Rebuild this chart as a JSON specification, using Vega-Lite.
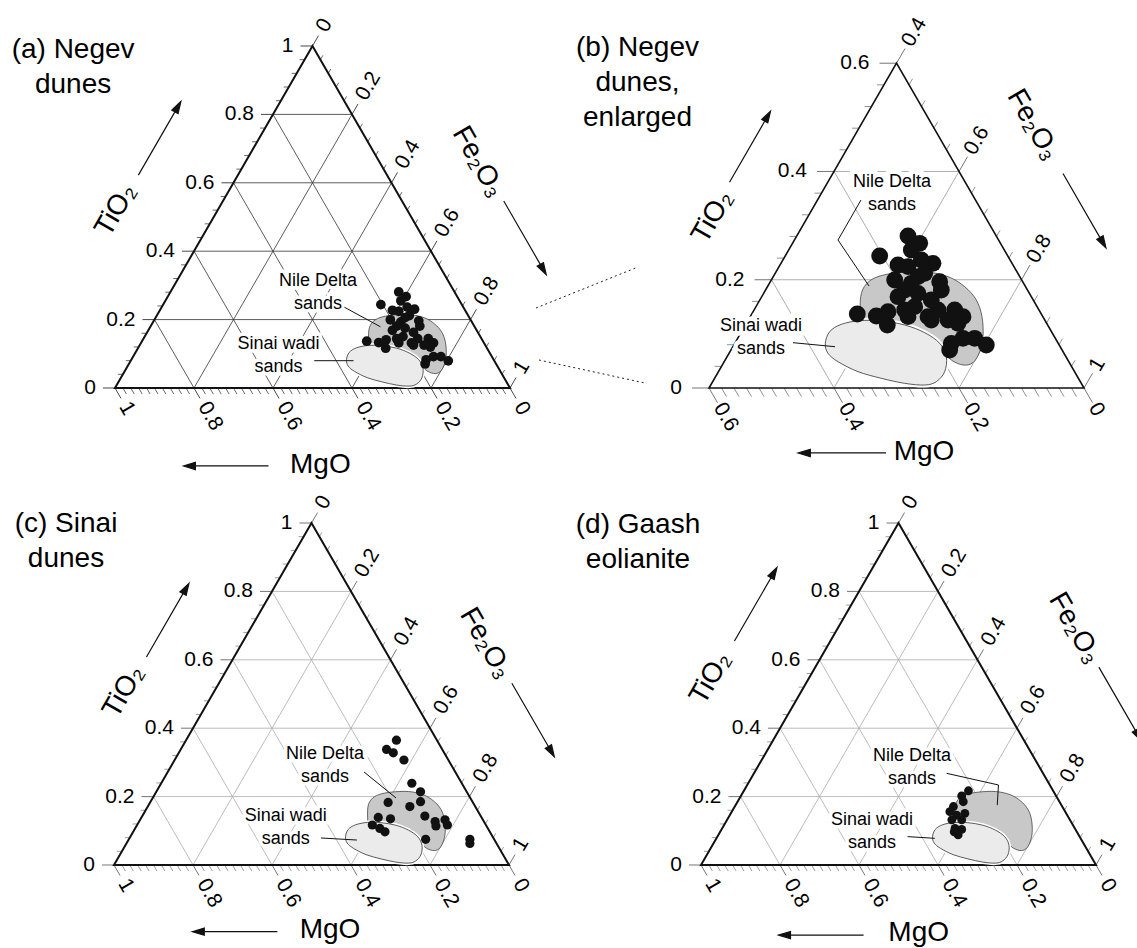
{
"$schema": "https://vega.github.io/schema/vega-lite/v6.json",
"padding": 0,
"background": "white",
"spacing": 0,
"bounds": "flush",
"columns": 2,
"config": {"view": {"stroke": null}, "font": "Liberation Sans"},
"datasets": {
"tri_full": [{"i":0,"x":0,"y":0},{"i":1,"x":1,"y":0},{"i":2,"x":0.5,"y":1}],
"tri_b": [{"i":0,"x":0.4,"y":0},{"i":1,"x":1,"y":0},{"i":2,"x":0.7,"y":0.6}],
"grid_full": [
{"x":0.1,"y":0.2,"x2":0.9,"y2":0.2},{"x":0.2,"y":0.4,"x2":0.8,"y2":0.4},{"x":0.3,"y":0.6,"x2":0.7,"y2":0.6},{"x":0.4,"y":0.8,"x2":0.6,"y2":0.8},
{"x":0.2,"y":0,"x2":0.6,"y2":0.8},{"x":0.4,"y":0,"x2":0.7,"y2":0.6},{"x":0.6,"y":0,"x2":0.8,"y2":0.4},{"x":0.8,"y":0,"x2":0.9,"y2":0.2},
{"x":0.8,"y":0,"x2":0.4,"y2":0.8},{"x":0.6,"y":0,"x2":0.3,"y2":0.6},{"x":0.4,"y":0,"x2":0.2,"y2":0.4},{"x":0.2,"y":0,"x2":0.1,"y2":0.2}],
"grid_b": [
{"x":0.5,"y":0.2,"x2":0.9,"y2":0.2},{"x":0.6,"y":0.4,"x2":0.8,"y2":0.4},
{"x":0.6,"y":0,"x2":0.8,"y2":0.4},{"x":0.8,"y":0,"x2":0.9,"y2":0.2},
{"x":0.8,"y":0,"x2":0.6,"y2":0.4},{"x":0.6,"y":0,"x2":0.5,"y2":0.2}],
"bt_full": [{"x":0.02,"y":0},{"x":0.04,"y":0},{"x":0.06,"y":0},{"x":0.08,"y":0},{"x":0.1,"y":0},{"x":0.12,"y":0},{"x":0.14,"y":0},{"x":0.16,"y":0},{"x":0.18,"y":0},
{"x":0.22,"y":0},{"x":0.24,"y":0},{"x":0.26,"y":0},{"x":0.28,"y":0},{"x":0.3,"y":0},{"x":0.32,"y":0},{"x":0.34,"y":0},{"x":0.36,"y":0},{"x":0.38,"y":0},
{"x":0.42,"y":0},{"x":0.44,"y":0},{"x":0.46,"y":0},{"x":0.48,"y":0},{"x":0.5,"y":0},{"x":0.52,"y":0},{"x":0.54,"y":0},{"x":0.56,"y":0},{"x":0.58,"y":0},
{"x":0.62,"y":0},{"x":0.64,"y":0},{"x":0.66,"y":0},{"x":0.68,"y":0},{"x":0.7,"y":0},{"x":0.72,"y":0},{"x":0.74,"y":0},{"x":0.76,"y":0},{"x":0.78,"y":0},
{"x":0.82,"y":0},{"x":0.84,"y":0},{"x":0.86,"y":0},{"x":0.88,"y":0},{"x":0.9,"y":0},{"x":0.92,"y":0},{"x":0.94,"y":0},{"x":0.96,"y":0},{"x":0.98,"y":0}],
"lt_full": [{"x":0.02,"y":0.04},{"x":0.04,"y":0.08},{"x":0.06,"y":0.12},{"x":0.08,"y":0.16},{"x":0.12,"y":0.24},{"x":0.14,"y":0.28},{"x":0.16,"y":0.32},{"x":0.18,"y":0.36},
{"x":0.22,"y":0.44},{"x":0.24,"y":0.48},{"x":0.26,"y":0.52},{"x":0.28,"y":0.56},{"x":0.32,"y":0.64},{"x":0.34,"y":0.68},{"x":0.36,"y":0.72},{"x":0.38,"y":0.76},
{"x":0.42,"y":0.84},{"x":0.44,"y":0.88},{"x":0.46,"y":0.92},{"x":0.48,"y":0.96}],
"rt_full": [{"x":0.98,"y":0.04},{"x":0.96,"y":0.08},{"x":0.94,"y":0.12},{"x":0.92,"y":0.16},{"x":0.88,"y":0.24},{"x":0.86,"y":0.28},{"x":0.84,"y":0.32},{"x":0.82,"y":0.36},
{"x":0.78,"y":0.44},{"x":0.76,"y":0.48},{"x":0.74,"y":0.52},{"x":0.72,"y":0.56},{"x":0.68,"y":0.64},{"x":0.66,"y":0.68},{"x":0.64,"y":0.72},{"x":0.62,"y":0.76},
{"x":0.58,"y":0.84},{"x":0.56,"y":0.88},{"x":0.54,"y":0.92},{"x":0.52,"y":0.96}],
"bM_full": [{"x":0,"y":0,"lab":"1"},{"x":0.2,"y":0,"lab":"0.8"},{"x":0.4,"y":0,"lab":"0.6"},{"x":0.6,"y":0,"lab":"0.4"},{"x":0.8,"y":0,"lab":"0.2"},{"x":1,"y":0,"lab":"0"}],
"lM_full": [{"x":0,"y":0,"lab":"0"},{"x":0.1,"y":0.2,"lab":"0.2"},{"x":0.2,"y":0.4,"lab":"0.4"},{"x":0.3,"y":0.6,"lab":"0.6"},{"x":0.4,"y":0.8,"lab":"0.8"},{"x":0.5,"y":1,"lab":"1"}],
"rM_full": [{"x":0.5,"y":1,"lab":"0"},{"x":0.6,"y":0.8,"lab":"0.2"},{"x":0.7,"y":0.6,"lab":"0.4"},{"x":0.8,"y":0.4,"lab":"0.6"},{"x":0.9,"y":0.2,"lab":"0.8"},{"x":1,"y":0,"lab":"1"}],
"bt_b": [{"x":0.42,"y":0},{"x":0.44,"y":0},{"x":0.46,"y":0},{"x":0.48,"y":0},{"x":0.5,"y":0},{"x":0.52,"y":0},{"x":0.54,"y":0},{"x":0.56,"y":0},{"x":0.58,"y":0},
{"x":0.62,"y":0},{"x":0.64,"y":0},{"x":0.66,"y":0},{"x":0.68,"y":0},{"x":0.7,"y":0},{"x":0.72,"y":0},{"x":0.74,"y":0},{"x":0.76,"y":0},{"x":0.78,"y":0},
{"x":0.82,"y":0},{"x":0.84,"y":0},{"x":0.86,"y":0},{"x":0.88,"y":0},{"x":0.9,"y":0},{"x":0.92,"y":0},{"x":0.94,"y":0},{"x":0.96,"y":0},{"x":0.98,"y":0}],
"lt_b": [{"x":0.42,"y":0.04},{"x":0.44,"y":0.08},{"x":0.46,"y":0.12},{"x":0.48,"y":0.16},{"x":0.52,"y":0.24},{"x":0.54,"y":0.28},{"x":0.56,"y":0.32},{"x":0.58,"y":0.36},
{"x":0.62,"y":0.44},{"x":0.64,"y":0.48},{"x":0.66,"y":0.52},{"x":0.68,"y":0.56}],
"rt_b": [{"x":0.98,"y":0.04},{"x":0.96,"y":0.08},{"x":0.94,"y":0.12},{"x":0.92,"y":0.16},{"x":0.88,"y":0.24},{"x":0.86,"y":0.28},{"x":0.84,"y":0.32},{"x":0.82,"y":0.36},
{"x":0.78,"y":0.44},{"x":0.76,"y":0.48},{"x":0.74,"y":0.52},{"x":0.72,"y":0.56}],
"bM_b": [{"x":0.4,"y":0,"lab":"0.6"},{"x":0.6,"y":0,"lab":"0.4"},{"x":0.8,"y":0,"lab":"0.2"},{"x":1,"y":0,"lab":"0"}],
"lM_b": [{"x":0.4,"y":0,"lab":"0"},{"x":0.5,"y":0.2,"lab":"0.2"},{"x":0.6,"y":0.4,"lab":"0.4"},{"x":0.7,"y":0.6,"lab":"0.6"}],
"rM_b": [{"x":0.7,"y":0.6,"lab":"0.4"},{"x":0.8,"y":0.4,"lab":"0.6"},{"x":0.9,"y":0.2,"lab":"0.8"},{"x":1,"y":0,"lab":"1"}],
"conn": [{"x":0.1232,"y":0.1478,"x2":0.2864,"y2":0.2235},{"x":0.128,"y":0.0517,"x2":0.2976,"y2":0.0092}],
"nile": [{"i":0,"x":0.6427,"y":0.1256},{"i":1,"x":0.6427,"y":0.1687},{"i":2,"x":0.6517,"y":0.1921},{"i":3,"x":0.6704,"y":0.2057},{"i":4,"x":0.7024,"y":0.2131},{"i":5,"x":0.7451,"y":0.2149},{"i":6,"x":0.7824,"y":0.2057},{"i":7,"x":0.8091,"y":0.1872},{"i":8,"x":0.8277,"y":0.1626},{"i":9,"x":0.8368,"y":0.1318},{"i":10,"x":0.8384,"y":0.0948},{"i":11,"x":0.8331,"y":0.0671},{"i":12,"x":0.8224,"y":0.0468},{"i":13,"x":0.8064,"y":0.0425},{"i":14,"x":0.7877,"y":0.0517},{"i":15,"x":0.7717,"y":0.0702},{"i":16,"x":0.7237,"y":0.1072},{"i":17,"x":0.6704,"y":0.1133},{"i":18,"x":0.6464,"y":0.1133}],
"wadi": [{"i":0,"x":0.5861,"y":0.0825},{"i":1,"x":0.5931,"y":0.1041},{"i":2,"x":0.6117,"y":0.1176},{"i":3,"x":0.6411,"y":0.1244},{"i":4,"x":0.6757,"y":0.1238},{"i":5,"x":0.7131,"y":0.1164},{"i":6,"x":0.7451,"y":0.1022},{"i":7,"x":0.7691,"y":0.0825},{"i":8,"x":0.7797,"y":0.0579},{"i":9,"x":0.7771,"y":0.0302},{"i":10,"x":0.7637,"y":0.0117},{"i":11,"x":0.7451,"y":0.0055},{"i":12,"x":0.7131,"y":0.0086},{"i":13,"x":0.6757,"y":0.0179},{"i":14,"x":0.6384,"y":0.0302},{"i":15,"x":0.6064,"y":0.0486},{"i":16,"x":0.5904,"y":0.0641}],
"negev": [{"x":0.7184,"y":0.2808},{"x":0.7371,"y":0.2673},{"x":0.6731,"y":0.2439},{"x":0.7237,"y":0.2549},{"x":0.7584,"y":0.2303},{"x":0.7024,"y":0.2272},{"x":0.7184,"y":0.2242},{"x":0.7397,"y":0.2365},{"x":0.7451,"y":0.2118},{"x":0.7691,"y":0.1964},{"x":0.6971,"y":0.1995},{"x":0.7237,"y":0.1934},{"x":0.7131,"y":0.181},{"x":0.7717,"y":0.181},{"x":0.7344,"y":0.1749},{"x":0.6373,"y":0.1367},{"x":0.6677,"y":0.133},{"x":0.6864,"y":0.141},{"x":0.6853,"y":0.1164},{"x":0.7131,"y":0.1441},{"x":0.7291,"y":0.1503},{"x":0.7504,"y":0.1318},{"x":0.7664,"y":0.1441},{"x":0.7931,"y":0.1441},{"x":0.8064,"y":0.1318},{"x":0.7984,"y":0.1195},{"x":0.7557,"y":0.1256},{"x":0.7877,"y":0.0825},{"x":0.8064,"y":0.0918},{"x":0.8251,"y":0.0918},{"x":0.8437,"y":0.0794},{"x":0.7851,"y":0.0702},{"x":0.7024,"y":0.1687},{"x":0.7557,"y":0.1626},{"x":0.7344,"y":0.2057},{"x":0.7824,"y":0.1256},{"x":0.7184,"y":0.1318}],
"sinai": [{"x":0.69,"y":0.338},{"x":0.707,"y":0.328},{"x":0.715,"y":0.365},{"x":0.734,"y":0.307},{"x":0.754,"y":0.239},{"x":0.776,"y":0.214},{"x":0.776,"y":0.185},{"x":0.694,"y":0.183},{"x":0.749,"y":0.171},{"x":0.787,"y":0.143},{"x":0.669,"y":0.139},{"x":0.7,"y":0.135},{"x":0.654,"y":0.117},{"x":0.673,"y":0.107},{"x":0.686,"y":0.097},{"x":0.813,"y":0.127},{"x":0.838,"y":0.132},{"x":0.844,"y":0.117},{"x":0.815,"y":0.114},{"x":0.789,"y":0.075},{"x":0.901,"y":0.075},{"x":0.901,"y":0.063}],
"gaash": [{"x":0.677,"y":0.217},{"x":0.66,"y":0.202},{"x":0.664,"y":0.185},{"x":0.639,"y":0.171},{"x":0.63,"y":0.156},{"x":0.647,"y":0.146},{"x":0.668,"y":0.151},{"x":0.635,"y":0.132},{"x":0.66,"y":0.132},{"x":0.643,"y":0.107},{"x":0.66,"y":0.104},{"x":0.651,"y":0.088},{"x":0.641,"y":0.097}],
"ann_a": [{"x":0.514,"y":0.3116,"t":"Nile Delta\nsands"},{"x":0.414,"y":0.1296,"t":"Sinai wadi\nsands"}],
"ann_b": [{"x":0.6928,"y":0.3805,"t":"Nile Delta\nsands"},{"x":0.4832,"y":0.1154,"t":"Sinai wadi\nsands"}],
"ann_c": [{"x":0.534,"y":0.3256,"t":"Nile Delta\nsands"},{"x":0.435,"y":0.1446,"t":"Sinai wadi\nsands"}],
"ann_d": [{"x":0.534,"y":0.3176,"t":"Nile Delta\nsands"},{"x":0.433,"y":0.1326,"t":"Sinai wadi\nsands"}],
"lead_a": [{"g":1,"i":0,"x":0.581,"y":0.236},{"g":1,"i":1,"x":0.672,"y":0.179},{"g":2,"i":0,"x":0.5045,"y":0.0798},{"g":2,"i":1,"x":0.604,"y":0.0798}],
"lead_b": [{"g":1,"i":0,"x":0.6432,"y":0.3473},{"g":1,"i":1,"x":0.6064,"y":0.2734},{"g":1,"i":2,"x":0.656,"y":0.1884},{"g":2,"i":0,"x":0.5344,"y":0.0837},{"g":2,"i":1,"x":0.6016,"y":0.0763}],
"lead_c": [{"g":1,"i":0,"x":0.633,"y":0.272},{"g":1,"i":1,"x":0.714,"y":0.196},{"g":2,"i":0,"x":0.524,"y":0.079},{"g":2,"i":1,"x":0.615,"y":0.073}],
"lead_d": [{"g":1,"i":0,"x":0.622,"y":0.268},{"g":1,"i":1,"x":0.753,"y":0.234},{"g":1,"i":2,"x":0.75,"y":0.175},{"g":2,"i":0,"x":0.523,"y":0.083},{"g":2,"i":1,"x":0.592,"y":0.078}]
},
"concat": [
{
"width": 560, "height": 470,
"encoding": {
"x": {"field": "x", "type": "quantitative", "scale": {"domain": [-0.2911, 1.1266], "nice": false, "zero": false}, "axis": null},
"y": {"field": "y", "type": "quantitative", "scale": {"domain": [-0.2398, 1.1345], "nice": false, "zero": false}, "axis": null}
},
"layer": [
{"data": {"name": "grid_full"}, "mark": {"type": "rule", "stroke": "#333", "strokeWidth": 0.8}, "encoding": {"x2": {"field": "x2"}, "y2": {"field": "y2"}}},
{"data": {"name": "bt_full"}, "mark": {"type": "point", "shape": "M0,0L0.5,0.866", "size": 196, "filled": false, "stroke": "#444", "strokeWidth": 0.8, "opacity": 1}},
{"data": {"name": "lt_full"}, "mark": {"type": "point", "shape": "M0,0L-1,0", "size": 100, "filled": false, "stroke": "#444", "strokeWidth": 0.8, "opacity": 1}},
{"data": {"name": "rt_full"}, "mark": {"type": "point", "shape": "M0,0L0.5,-0.866", "size": 100, "filled": false, "stroke": "#444", "strokeWidth": 0.8, "opacity": 1}},
{"data": {"name": "bM_full"}, "mark": {"type": "point", "shape": "M0,0L0.5,0.866", "size": 576, "filled": false, "stroke": "#333", "strokeWidth": 0.9, "opacity": 1}},
{"data": {"name": "lM_full"}, "mark": {"type": "point", "shape": "M0,0L-1,0", "size": 576, "filled": false, "stroke": "#333", "strokeWidth": 0.9, "opacity": 1}},
{"data": {"name": "rM_full"}, "mark": {"type": "point", "shape": "M0,0L0.5,-0.866", "size": 576, "filled": false, "stroke": "#333", "strokeWidth": 0.9, "opacity": 1}},
{"data": {"name": "bM_full"}, "mark": {"type": "text", "angle": 60, "align": "left", "baseline": "middle", "dx": 18, "fontSize": 21}, "encoding": {"text": {"field": "lab"}}},
{"data": {"name": "lM_full"}, "mark": {"type": "text", "align": "right", "baseline": "middle", "dx": -19, "fontSize": 21}, "encoding": {"text": {"field": "lab"}}},
{"data": {"name": "rM_full"}, "mark": {"type": "text", "angle": 300, "align": "left", "baseline": "middle", "dx": 18, "fontSize": 21}, "encoding": {"text": {"field": "lab"}}},
{"data": {"name": "tri_full"}, "mark": {"type": "line", "interpolate": "linear-closed", "stroke": "#111", "strokeWidth": 2, "strokeJoin": "miter"}, "encoding": {"order": {"field": "i"}}},
{"data": {"name": "ann_a"}, "mark": {"type": "text", "lineBreak": "\n", "fontSize": 18, "lineHeight": 23, "align": "center", "baseline": "middle", "fill": "white", "stroke": "white", "strokeWidth": 7}, "encoding": {"text": {"field": "t"}}},
{"data": {"name": "nile"}, "mark": {"type": "line", "interpolate": "cardinal-closed", "fill": "#c8c8c8", "stroke": "#444", "strokeWidth": 0.8}, "encoding": {"order": {"field": "i"}}},
{"data": {"name": "wadi"}, "mark": {"type": "line", "interpolate": "cardinal-closed", "stroke": "white", "strokeWidth": 4}, "encoding": {"order": {"field": "i"}}},
{"data": {"name": "wadi"}, "mark": {"type": "line", "interpolate": "cardinal-closed", "fill": "#ebebeb", "stroke": "#333", "strokeWidth": 0.8}, "encoding": {"order": {"field": "i"}}},
{"data": {"name": "lead_a"}, "mark": {"type": "line", "stroke": "#111", "strokeWidth": 1}, "encoding": {"detail": {"field": "g"}, "order": {"field": "i"}}},
{"data": {"name": "negev"}, "mark": {"type": "circle", "fill": "#111", "size": 95, "opacity": 1}},
{"data": {"name": "ann_a"}, "mark": {"type": "text", "lineBreak": "\n", "fontSize": 18, "lineHeight": 23, "align": "center", "baseline": "middle"}, "encoding": {"text": {"field": "t"}}},
{"data": {"values": [{"x": -0.106, "y": 0.988}]}, "mark": {"type": "text", "lineBreak": "\n", "fontSize": 28, "lineHeight": 35, "align": "center", "baseline": "middle", "text": "(a) Negev\ndunes"}},
{"data": {"values": [{"x": 0.0025, "y": 0.52}]}, "mark": {"type": "text", "fontSize": 28, "angle": 300, "align": "center", "baseline": "middle", "text": "TiO₂"}},
{"data": {"values": [{"x": 0.919, "y": 0.661}]}, "mark": {"type": "text", "fontSize": 28, "angle": 60, "align": "center", "baseline": "middle", "text": "Fe₂O₃"}},
{"data": {"values": [{"x": 0.52, "y": -0.226}]}, "mark": {"type": "text", "fontSize": 28, "align": "center", "baseline": "middle", "text": "MgO"}},
{"data": {"values": [{"x": 0.113, "y": 0.73}]}, "mark": {"type": "point", "shape": "M-1,0L0.74,0M1,0L0.72,-0.085L0.72,0.085Z", "size": 7225, "angle": 300, "filled": true, "fill": "#111", "stroke": "#111", "strokeWidth": 1.2, "opacity": 1}},
{"data": {"values": [{"x": 1.038, "y": 0.439}]}, "mark": {"type": "point", "shape": "M-1,0L0.74,0M1,0L0.72,-0.085L0.72,0.085Z", "size": 7225, "angle": 60, "filled": true, "fill": "#111", "stroke": "#111", "strokeWidth": 1.2, "opacity": 1}},
{"data": {"values": [{"x": 0.281, "y": -0.228}]}, "mark": {"type": "point", "shape": "M-1,0L0.74,0M1,0L0.72,-0.085L0.72,0.085Z", "size": 7225, "angle": 180, "filled": true, "fill": "#111", "stroke": "#111", "strokeWidth": 1.2, "opacity": 1}}
]
},
{
"width": 577, "height": 470,
"encoding": {
"x": {"field": "x", "type": "quantitative", "scale": {"domain": [0.1616, 1.0848], "nice": false, "zero": false}, "axis": null},
"y": {"field": "y", "type": "quantitative", "scale": {"domain": [-0.1515, 0.7168], "nice": false, "zero": false}, "axis": null}
},
"layer": [
{"data": {"name": "conn"}, "mark": {"type": "rule", "stroke": "#222", "strokeWidth": 1, "strokeDash": [2, 3]}, "encoding": {"x2": {"field": "x2"}, "y2": {"field": "y2"}}},
{"data": {"name": "grid_b"}, "mark": {"type": "rule", "stroke": "#9a9a9a", "strokeWidth": 0.8}, "encoding": {"x2": {"field": "x2"}, "y2": {"field": "y2"}}},
{"data": {"name": "bt_b"}, "mark": {"type": "point", "shape": "M0,0L0.5,0.866", "size": 400, "filled": false, "stroke": "#777", "strokeWidth": 0.8, "opacity": 1}},
{"data": {"name": "lt_b"}, "mark": {"type": "point", "shape": "M0,0L-1,0", "size": 196, "filled": false, "stroke": "#777", "strokeWidth": 0.8, "opacity": 1}},
{"data": {"name": "rt_b"}, "mark": {"type": "point", "shape": "M0,0L0.5,-0.866", "size": 196, "filled": false, "stroke": "#777", "strokeWidth": 0.8, "opacity": 1}},
{"data": {"name": "bM_b"}, "mark": {"type": "point", "shape": "M0,0L0.5,0.866", "size": 1156, "filled": false, "stroke": "#666", "strokeWidth": 0.9, "opacity": 1}},
{"data": {"name": "lM_b"}, "mark": {"type": "point", "shape": "M0,0L-1,0", "size": 1156, "filled": false, "stroke": "#666", "strokeWidth": 0.9, "opacity": 1}},
{"data": {"name": "rM_b"}, "mark": {"type": "point", "shape": "M0,0L0.5,-0.866", "size": 1156, "filled": false, "stroke": "#666", "strokeWidth": 0.9, "opacity": 1}},
{"data": {"name": "bM_b"}, "mark": {"type": "text", "angle": 60, "align": "left", "baseline": "middle", "dx": 19, "fontSize": 21}, "encoding": {"text": {"field": "lab"}}},
{"data": {"name": "lM_b"}, "mark": {"type": "text", "align": "right", "baseline": "middle", "dx": -27, "fontSize": 21}, "encoding": {"text": {"field": "lab"}}},
{"data": {"name": "rM_b"}, "mark": {"type": "text", "angle": 300, "align": "left", "baseline": "middle", "dx": 21, "fontSize": 21}, "encoding": {"text": {"field": "lab"}}},
{"data": {"name": "tri_b"}, "mark": {"type": "line", "interpolate": "linear-closed", "stroke": "#111", "strokeWidth": 1.6, "strokeJoin": "miter"}, "encoding": {"order": {"field": "i"}}},
{"data": {"name": "ann_b"}, "mark": {"type": "text", "lineBreak": "\n", "fontSize": 18, "lineHeight": 23, "align": "center", "baseline": "middle", "fill": "white", "stroke": "white", "strokeWidth": 9}, "encoding": {"text": {"field": "t"}}},
{"data": {"name": "nile"}, "mark": {"type": "line", "interpolate": "cardinal-closed", "fill": "#c8c8c8", "stroke": "#444", "strokeWidth": 0.8}, "encoding": {"order": {"field": "i"}}},
{"data": {"name": "wadi"}, "mark": {"type": "line", "interpolate": "cardinal-closed", "stroke": "white", "strokeWidth": 5}, "encoding": {"order": {"field": "i"}}},
{"data": {"name": "wadi"}, "mark": {"type": "line", "interpolate": "cardinal-closed", "fill": "#ebebeb", "stroke": "#333", "strokeWidth": 0.8}, "encoding": {"order": {"field": "i"}}},
{"data": {"name": "lead_b"}, "mark": {"type": "line", "stroke": "#111", "strokeWidth": 1}, "encoding": {"detail": {"field": "g"}, "order": {"field": "i"}}},
{"data": {"name": "negev"}, "mark": {"type": "circle", "fill": "#111", "size": 283, "opacity": 1}},
{"data": {"name": "ann_b"}, "mark": {"type": "text", "lineBreak": "\n", "fontSize": 18, "lineHeight": 23, "align": "center", "baseline": "middle"}, "encoding": {"text": {"field": "t"}}},
{"data": {"values": [{"x": 0.2856, "y": 0.628}]}, "mark": {"type": "text", "lineBreak": "\n", "fontSize": 28, "lineHeight": 35, "align": "center", "baseline": "middle", "text": "(b) Negev\ndunes,\nenlarged"}},
{"data": {"values": [{"x": 0.4059, "y": 0.316}]}, "mark": {"type": "text", "fontSize": 28, "angle": 300, "align": "center", "baseline": "middle", "text": "TiO₂"}},
{"data": {"values": [{"x": 0.918, "y": 0.486}]}, "mark": {"type": "text", "fontSize": 28, "angle": 60, "align": "center", "baseline": "middle", "text": "Fe₂O₃"}},
{"data": {"values": [{"x": 0.744, "y": -0.118}]}, "mark": {"type": "text", "fontSize": 28, "align": "center", "baseline": "middle", "text": "MgO"}},
{"data": {"values": [{"x": 0.4656, "y": 0.4458}]}, "mark": {"type": "point", "shape": "M-1,0L0.74,0M1,0L0.72,-0.085L0.72,0.085Z", "size": 6724, "angle": 300, "filled": true, "fill": "#111", "stroke": "#111", "strokeWidth": 1.2, "opacity": 1}},
{"data": {"values": [{"x": 1.0008, "y": 0.3274}]}, "mark": {"type": "point", "shape": "M-1,0L0.74,0M1,0L0.72,-0.085L0.72,0.085Z", "size": 7396, "angle": 60, "filled": true, "fill": "#111", "stroke": "#111", "strokeWidth": 1.2, "opacity": 1}},
{"data": {"values": [{"x": 0.6128, "y": -0.12}]}, "mark": {"type": "point", "shape": "M-1,0L0.74,0M1,0L0.72,-0.085L0.72,0.085Z", "size": 7744, "angle": 180, "filled": true, "fill": "#111", "stroke": "#111", "strokeWidth": 1.2, "opacity": 1}}
]
},
{
"width": 560, "height": 478,
"encoding": {
"x": {"field": "x", "type": "quantitative", "scale": {"domain": [-0.2886, 1.1291], "nice": false, "zero": false}, "axis": null},
"y": {"field": "y", "type": "quantitative", "scale": {"domain": [-0.2427, 1.155], "nice": false, "zero": false}, "axis": null}
},
"layer": [
{"data": {"name": "grid_full"}, "mark": {"type": "rule", "stroke": "#ababab", "strokeWidth": 0.8}, "encoding": {"x2": {"field": "x2"}, "y2": {"field": "y2"}}},
{"data": {"name": "bt_full"}, "mark": {"type": "point", "shape": "M0,0L0.5,0.866", "size": 196, "filled": false, "stroke": "#888", "strokeWidth": 0.8, "opacity": 1}},
{"data": {"name": "lt_full"}, "mark": {"type": "point", "shape": "M0,0L-1,0", "size": 100, "filled": false, "stroke": "#888", "strokeWidth": 0.8, "opacity": 1}},
{"data": {"name": "rt_full"}, "mark": {"type": "point", "shape": "M0,0L0.5,-0.866", "size": 100, "filled": false, "stroke": "#888", "strokeWidth": 0.8, "opacity": 1}},
{"data": {"name": "bM_full"}, "mark": {"type": "point", "shape": "M0,0L0.5,0.866", "size": 576, "filled": false, "stroke": "#666", "strokeWidth": 0.9, "opacity": 1}},
{"data": {"name": "lM_full"}, "mark": {"type": "point", "shape": "M0,0L-1,0", "size": 576, "filled": false, "stroke": "#666", "strokeWidth": 0.9, "opacity": 1}},
{"data": {"name": "rM_full"}, "mark": {"type": "point", "shape": "M0,0L0.5,-0.866", "size": 576, "filled": false, "stroke": "#666", "strokeWidth": 0.9, "opacity": 1}},
{"data": {"name": "bM_full"}, "mark": {"type": "text", "angle": 60, "align": "left", "baseline": "middle", "dx": 18, "fontSize": 21}, "encoding": {"text": {"field": "lab"}}},
{"data": {"name": "lM_full"}, "mark": {"type": "text", "align": "right", "baseline": "middle", "dx": -19, "fontSize": 21}, "encoding": {"text": {"field": "lab"}}},
{"data": {"name": "rM_full"}, "mark": {"type": "text", "angle": 300, "align": "left", "baseline": "middle", "dx": 18, "fontSize": 21}, "encoding": {"text": {"field": "lab"}}},
{"data": {"name": "tri_full"}, "mark": {"type": "line", "interpolate": "linear-closed", "stroke": "#111", "strokeWidth": 2, "strokeJoin": "miter"}, "encoding": {"order": {"field": "i"}}},
{"data": {"name": "ann_c"}, "mark": {"type": "text", "lineBreak": "\n", "fontSize": 18, "lineHeight": 23, "align": "center", "baseline": "middle", "fill": "white", "stroke": "white", "strokeWidth": 7}, "encoding": {"text": {"field": "t"}}},
{"data": {"name": "nile"}, "mark": {"type": "line", "interpolate": "cardinal-closed", "fill": "#c8c8c8", "stroke": "#444", "strokeWidth": 0.8}, "encoding": {"order": {"field": "i"}}},
{"data": {"name": "wadi"}, "mark": {"type": "line", "interpolate": "cardinal-closed", "stroke": "white", "strokeWidth": 4}, "encoding": {"order": {"field": "i"}}},
{"data": {"name": "wadi"}, "mark": {"type": "line", "interpolate": "cardinal-closed", "fill": "#ebebeb", "stroke": "#333", "strokeWidth": 0.8}, "encoding": {"order": {"field": "i"}}},
{"data": {"name": "lead_c"}, "mark": {"type": "line", "stroke": "#111", "strokeWidth": 1}, "encoding": {"detail": {"field": "g"}, "order": {"field": "i"}}},
{"data": {"name": "sinai"}, "mark": {"type": "circle", "fill": "#111", "size": 85, "opacity": 1}},
{"data": {"name": "ann_c"}, "mark": {"type": "text", "lineBreak": "\n", "fontSize": 18, "lineHeight": 23, "align": "center", "baseline": "middle"}, "encoding": {"text": {"field": "t"}}},
{"data": {"values": [{"x": -0.1215, "y": 0.997}]}, "mark": {"type": "text", "lineBreak": "\n", "fontSize": 28, "lineHeight": 35, "align": "center", "baseline": "middle", "text": "(c) Sinai\ndunes"}},
{"data": {"values": [{"x": 0.025, "y": 0.507}]}, "mark": {"type": "text", "fontSize": 28, "angle": 300, "align": "center", "baseline": "middle", "text": "TiO₂"}},
{"data": {"values": [{"x": 0.941, "y": 0.648}]}, "mark": {"type": "text", "fontSize": 28, "angle": 60, "align": "center", "baseline": "middle", "text": "Fe₂O₃"}},
{"data": {"values": [{"x": 0.547, "y": -0.19}]}, "mark": {"type": "text", "fontSize": 28, "align": "center", "baseline": "middle", "text": "MgO"}},
{"data": {"values": [{"x": 0.136, "y": 0.716}]}, "mark": {"type": "point", "shape": "M-1,0L0.74,0M1,0L0.72,-0.085L0.72,0.085Z", "size": 7225, "angle": 300, "filled": true, "fill": "#111", "stroke": "#111", "strokeWidth": 1.2, "opacity": 1}},
{"data": {"values": [{"x": 1.061, "y": 0.424}]}, "mark": {"type": "point", "shape": "M-1,0L0.74,0M1,0L0.72,-0.085L0.72,0.085Z", "size": 7225, "angle": 60, "filled": true, "fill": "#111", "stroke": "#111", "strokeWidth": 1.2, "opacity": 1}},
{"data": {"values": [{"x": 0.306, "y": -0.195}]}, "mark": {"type": "point", "shape": "M-1,0L0.74,0M1,0L0.72,-0.085L0.72,0.085Z", "size": 7225, "angle": 180, "filled": true, "fill": "#111", "stroke": "#111", "strokeWidth": 1.2, "opacity": 1}}
]
},
{
"width": 577, "height": 478,
"encoding": {
"x": {"field": "x", "type": "quantitative", "scale": {"domain": [-0.357, 1.1038], "nice": false, "zero": false}, "axis": null},
"y": {"field": "y", "type": "quantitative", "scale": {"domain": [-0.2427, 1.155], "nice": false, "zero": false}, "axis": null}
},
"layer": [
{"data": {"name": "grid_full"}, "mark": {"type": "rule", "stroke": "#ababab", "strokeWidth": 0.8}, "encoding": {"x2": {"field": "x2"}, "y2": {"field": "y2"}}},
{"data": {"name": "bt_full"}, "mark": {"type": "point", "shape": "M0,0L0.5,0.866", "size": 196, "filled": false, "stroke": "#888", "strokeWidth": 0.8, "opacity": 1}},
{"data": {"name": "lt_full"}, "mark": {"type": "point", "shape": "M0,0L-1,0", "size": 100, "filled": false, "stroke": "#888", "strokeWidth": 0.8, "opacity": 1}},
{"data": {"name": "rt_full"}, "mark": {"type": "point", "shape": "M0,0L0.5,-0.866", "size": 100, "filled": false, "stroke": "#888", "strokeWidth": 0.8, "opacity": 1}},
{"data": {"name": "bM_full"}, "mark": {"type": "point", "shape": "M0,0L0.5,0.866", "size": 576, "filled": false, "stroke": "#666", "strokeWidth": 0.9, "opacity": 1}},
{"data": {"name": "lM_full"}, "mark": {"type": "point", "shape": "M0,0L-1,0", "size": 576, "filled": false, "stroke": "#666", "strokeWidth": 0.9, "opacity": 1}},
{"data": {"name": "rM_full"}, "mark": {"type": "point", "shape": "M0,0L0.5,-0.866", "size": 576, "filled": false, "stroke": "#666", "strokeWidth": 0.9, "opacity": 1}},
{"data": {"name": "bM_full"}, "mark": {"type": "text", "angle": 60, "align": "left", "baseline": "middle", "dx": 18, "fontSize": 21}, "encoding": {"text": {"field": "lab"}}},
{"data": {"name": "lM_full"}, "mark": {"type": "text", "align": "right", "baseline": "middle", "dx": -19, "fontSize": 21}, "encoding": {"text": {"field": "lab"}}},
{"data": {"name": "rM_full"}, "mark": {"type": "text", "angle": 300, "align": "left", "baseline": "middle", "dx": 18, "fontSize": 21}, "encoding": {"text": {"field": "lab"}}},
{"data": {"name": "tri_full"}, "mark": {"type": "line", "interpolate": "linear-closed", "stroke": "#111", "strokeWidth": 2, "strokeJoin": "miter"}, "encoding": {"order": {"field": "i"}}},
{"data": {"name": "ann_d"}, "mark": {"type": "text", "lineBreak": "\n", "fontSize": 18, "lineHeight": 23, "align": "center", "baseline": "middle", "fill": "white", "stroke": "white", "strokeWidth": 7}, "encoding": {"text": {"field": "t"}}},
{"data": {"name": "nile"}, "mark": {"type": "line", "interpolate": "cardinal-closed", "fill": "#c8c8c8", "stroke": "#444", "strokeWidth": 0.8}, "encoding": {"order": {"field": "i"}}},
{"data": {"name": "wadi"}, "mark": {"type": "line", "interpolate": "cardinal-closed", "stroke": "white", "strokeWidth": 4}, "encoding": {"order": {"field": "i"}}},
{"data": {"name": "wadi"}, "mark": {"type": "line", "interpolate": "cardinal-closed", "fill": "#ebebeb", "stroke": "#333", "strokeWidth": 0.8}, "encoding": {"order": {"field": "i"}}},
{"data": {"name": "lead_d"}, "mark": {"type": "line", "stroke": "#111", "strokeWidth": 1}, "encoding": {"detail": {"field": "g"}, "order": {"field": "i"}}},
{"data": {"name": "gaash"}, "mark": {"type": "circle", "fill": "#111", "size": 78, "opacity": 1}},
{"data": {"name": "ann_d"}, "mark": {"type": "text", "lineBreak": "\n", "fontSize": 18, "lineHeight": 23, "align": "center", "baseline": "middle"}, "encoding": {"text": {"field": "t"}}},
{"data": {"values": [{"x": -0.1595, "y": 0.994}]}, "mark": {"type": "text", "lineBreak": "\n", "fontSize": 28, "lineHeight": 35, "align": "center", "baseline": "middle", "text": "(d) Gaash\neolianite"}},
{"data": {"values": [{"x": 0.0246, "y": 0.546}]}, "mark": {"type": "text", "fontSize": 28, "angle": 300, "align": "center", "baseline": "middle", "text": "TiO₂"}},
{"data": {"values": [{"x": 0.946, "y": 0.692}]}, "mark": {"type": "text", "fontSize": 28, "angle": 60, "align": "center", "baseline": "middle", "text": "Fe₂O₃"}},
{"data": {"values": [{"x": 0.551, "y": -0.199}]}, "mark": {"type": "text", "fontSize": 28, "align": "center", "baseline": "middle", "text": "MgO"}},
{"data": {"values": [{"x": 0.1385, "y": 0.7626}]}, "mark": {"type": "point", "shape": "M-1,0L0.74,0M1,0L0.72,-0.085L0.72,0.085Z", "size": 7225, "angle": 300, "filled": true, "fill": "#111", "stroke": "#111", "strokeWidth": 1.2, "opacity": 1}},
{"data": {"values": [{"x": 1.061, "y": 0.471}]}, "mark": {"type": "point", "shape": "M-1,0L0.74,0M1,0L0.72,-0.085L0.72,0.085Z", "size": 7225, "angle": 60, "filled": true, "fill": "#111", "stroke": "#111", "strokeWidth": 1.2, "opacity": 1}},
{"data": {"values": [{"x": 0.304, "y": -0.205}]}, "mark": {"type": "point", "shape": "M-1,0L0.74,0M1,0L0.72,-0.085L0.72,0.085Z", "size": 7225, "angle": 180, "filled": true, "fill": "#111", "stroke": "#111", "strokeWidth": 1.2, "opacity": 1}}
]
}
]
}
